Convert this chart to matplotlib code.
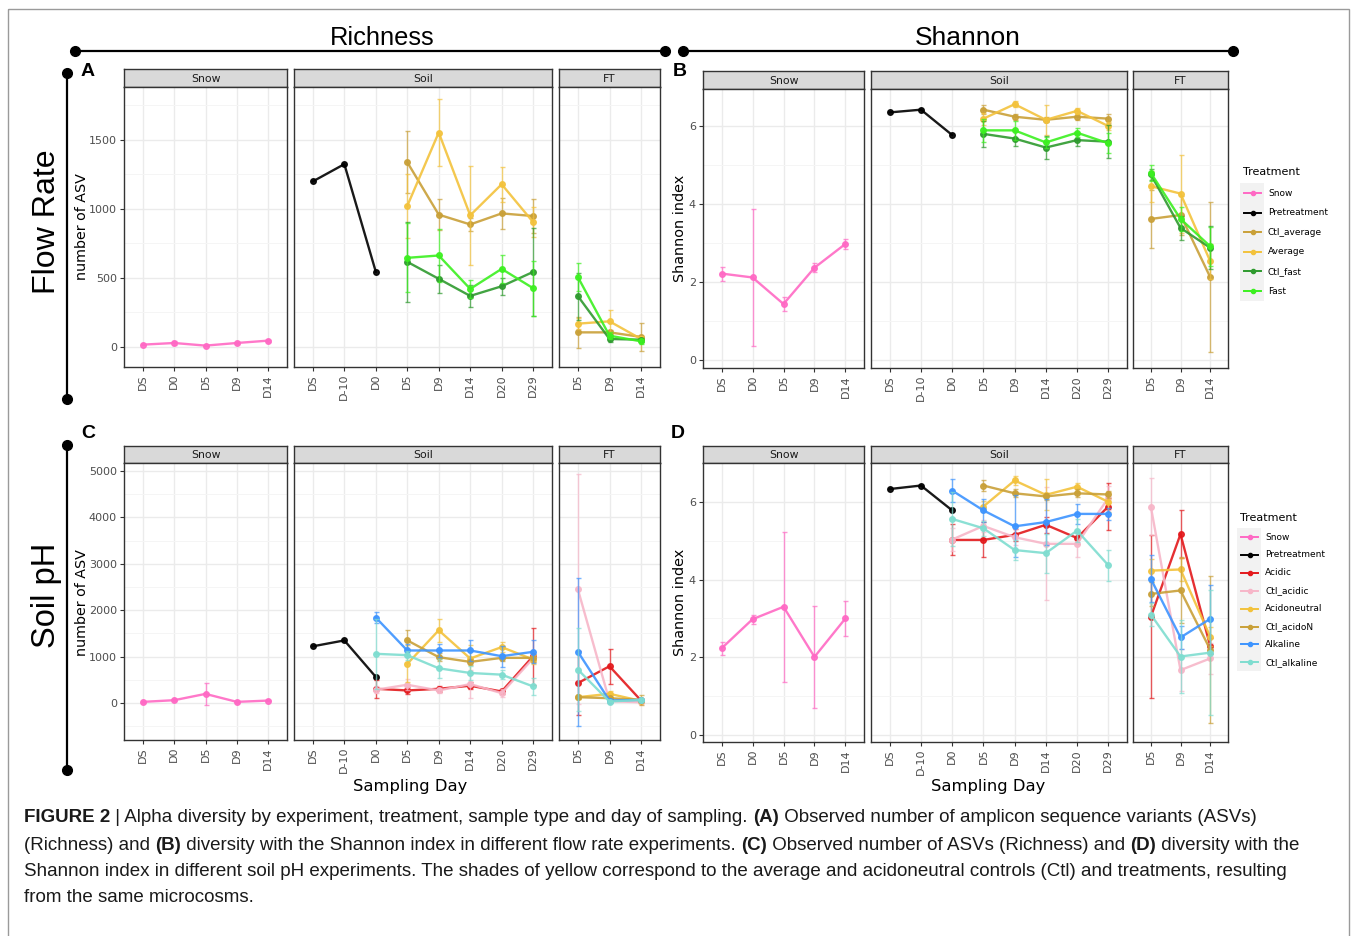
import numpy as np
import matplotlib
matplotlib.use("Agg")
import matplotlib.pyplot as plt
from matplotlib import font_manager
from matplotlib.patches import Rectangle

nan = np.nan

# ---- data ----
snow_days = ["DS", "D0", "D5", "D9", "D14"]
soil_days = ["DS", "D-10", "D0", "D5", "D9", "D14", "D20", "D29"]
ft_days = ["D5", "D9", "D14"]

flow_names = ["Ctl_average", "Average", "Ctl_fast", "Fast"]
ph_names = ["Acidic", "Ctl_acidic", "Acidoneutral", "Ctl_acidoN", "Alkaline", "Ctl_alkaline"]

# A - richness, flow rate.  treatment lists: soil D5..D29, then FT D5, D9, D14
a_snow = [17, 29, 10, 29, 46]
a_snow_sd = [6, 18, 6, 8, 8]
a_pre = [1200, 1325, 545]
a_ctl_average = [1339, 959, 888, 968, 949, 106, 106, 73]
a_ctl_average_sd = [225, 110, 45, 115, 125, 110, 15, 100]
a_average = [1022, 1554, 954, 1179, 905, 169, 186, 58]
a_average_sd = [230, 245, 357, 125, 110, 40, 80, 20]
a_ctl_fast = [617, 494, 370, 440, 544, 368, 58, 53]
a_ctl_fast_sd = [290, 100, 80, 60, 320, 170, 20, 15]
a_fast = [646, 663, 421, 566, 426, 506, 82, 41]
a_fast_sd = [250, 190, 65, 100, 200, 100, 25, 20]

# B - Shannon, flow rate
b_snow = [2.22, 2.12, 1.44, 2.37, 2.98]
b_snow_sd = [0.18, 1.76, 0.19, 0.12, 0.12]
b_pre = [6.35, 6.42, 5.77]
b_ctl_average = [6.42, 6.24, 6.16, 6.24, 6.19, 3.62, 3.72, 2.13]
b_ctl_average_sd = [0.12, 0.08, 0.06, 0.08, 0.12, 0.75, 0.5, 1.93]
b_average = [6.19, 6.56, 6.16, 6.39, 6.0, 4.46, 4.27, 2.54]
b_average_sd = [0.15, 0.08, 0.38, 0.08, 0.1, 0.4, 1.0, 0.45]
b_ctl_fast = [5.80, 5.68, 5.45, 5.64, 5.60, 4.76, 3.39, 2.88]
b_ctl_fast_sd = [0.33, 0.2, 0.3, 0.15, 0.42, 0.15, 0.3, 0.55]
b_fast = [5.89, 5.89, 5.58, 5.83, 5.56, 4.80, 3.62, 2.92]
b_fast_sd = [0.3, 0.25, 0.15, 0.12, 0.25, 0.2, 0.3, 0.5]

# C - richness, soil pH.  treatment lists: soil D0..D29, then FT D5, D9, D14
c_snow = [22, 58, 194, 22, 50]
c_snow_sd = [15, 20, 238, 15, 15]
c_pre = [1220, 1347, 560]
c_acidic = [304, 268, 304, 370, 246, 1007, 428, 790, 50]
c_acidic_sd = [200, 80, 60, 70, 60, 612, 690, 382, 15]
c_ctl_acidic = [283, 391, 268, 406, 210, 960, 2446, 36, 14]
c_ctl_acidic_sd = [80, 120, 60, 300, 80, 80, 2480, 20, 15]
c_acidoneutral = [nan, 841, 1565, 957, 1203, 935, 123, 196, 43]
c_acidoneutral_sd = [nan, 400, 245, 300, 110, 100, 40, 60, 15]
c_ctl_acidon = [nan, 1348, 986, 884, 971, 971, 123, 101, 65]
c_ctl_acidon_sd = [nan, 220, 80, 60, 60, 80, 40, 20, 100]
c_alkaline = [1840, 1130, 1130, 1130, 1007, 1101, 1101, 50, 65]
c_alkaline_sd = [120, 150, 150, 230, 230, 250, 1600, 20, 20]
c_ctl_alkaline = [1058, 1029, 746, 645, 609, 355, 717, 29, 65]
c_ctl_alkaline_sd = [750, 100, 200, 150, 100, 180, 900, 15, 15]

# D - Shannon, soil pH
d_snow = [2.23, 2.98, 3.30, 2.01, 3.0]
d_snow_sd = [0.17, 0.12, 1.93, 1.32, 0.46]
d_pre = [6.33, 6.42, 5.78]
d_acidic = [5.02, 5.02, 5.15, 5.41, 5.07, 5.88, 3.04, 5.17, 2.29]
d_acidic_sd = [0.4, 0.45, 0.15, 0.2, 0.15, 0.6, 2.1, 0.62, 0.2]
d_ctl_acidic = [5.03, 5.38, 5.09, 4.92, 4.92, 6.1, 5.88, 1.67, 1.97]
d_ctl_acidic_sd = [0.3, 0.15, 0.2, 1.45, 0.35, 0.3, 0.74, 0.55, 0.4]
d_acidoneutral = [nan, 5.88, 6.55, 6.18, 6.39, 6.0, 4.23, 4.26, 2.53]
d_acidoneutral_sd = [nan, 0.15, 0.12, 0.4, 0.1, 0.25, 0.3, 0.3, 0.25]
d_ctl_acidon = [nan, 6.42, 6.22, 6.14, 6.22, 6.19, 3.63, 3.72, 2.2]
d_ctl_acidon_sd = [nan, 0.15, 0.1, 0.1, 0.1, 0.1, 0.3, 0.85, 1.9]
d_alkaline = [6.29, 5.78, 5.37, 5.48, 5.69, 5.69, 4.02, 2.51, 2.99]
d_alkaline_sd = [0.3, 0.3, 0.8, 0.6, 0.25, 0.15, 0.6, 0.3, 0.87]
d_ctl_alkaline = [5.56, 5.32, 4.76, 4.68, 5.26, 4.37, 3.10, 2.02, 2.12]
d_ctl_alkaline_sd = [0.7, 0.2, 0.25, 0.5, 0.3, 0.4, 0.3, 0.95, 1.6]

colours = {"Snow": "#FF69C4", "Pretreatment": "#000000",
           "Ctl_average": "#C9A038", "Average": "#F3C23C",
           "Ctl_fast": "#2E9A2E", "Fast": "#3CF020",
           "Acidic": "#E3191C", "Ctl_acidic": "#F7B6C8",
           "Acidoneutral": "#F3C23C", "Ctl_acidoN": "#C9A038",
           "Alkaline": "#3D94FF", "Ctl_alkaline": "#7FDDD0"}

plt.rcParams["font.family"] = "DejaVu Sans"


def have(name):
    try:
        font_manager.findfont(name, fallback_to_default=False)
        return True
    except ValueError:
        return False


narrow = "Liberation Sans Narrow" if have("Liberation Sans Narrow") else "Liberation Sans"

W, H = 1355, 936
fig = plt.figure(figsize=(W / 100, H / 100), dpi=100)
renderer = fig.canvas.get_renderer()

# overlay in pixel coordinates for the frame, headers, legends and caption
ov = fig.add_axes([0, 0, 1, 1])
ov.set_xlim(0, W)
ov.set_ylim(H, 0)
ov.axis("off")
ov.set_autoscale_on(False)


def box(x0, y0, x1, y1):
    return [x0 / W, 1 - y1 / H, (x1 - x0) / W, (y1 - y0) / H]


def fit(x, y, s, width, rotation=0, **kw):
    t = ov.text(x, y, s, fontsize=10, ha="center", va="center", **kw)
    w = t.get_window_extent(renderer).width
    t.set_fontsize(10 * width / w)
    t.set_rotation(rotation)
    return t


def facet_row(cols, strip_top, top, bottom, ylim, major, minor):
    axes = []
    for i, ((x0, x1), days, name) in enumerate(zip(cols, [snow_days, soil_days, ft_days],
                                                   ["Snow", "Soil", "FT"])):
        sax = fig.add_axes(box(x0, strip_top, x1, top))
        sax.set_facecolor("#D9D9D9")
        sax.set_xticks([])
        sax.set_yticks([])
        for s in sax.spines.values():
            s.set_color("#333333")
            s.set_linewidth(1)
        sax.text(0.5, 0.45, name, transform=sax.transAxes, ha="center", va="center",
                 fontsize=7.8, color="#1A1A1A")

        ax = fig.add_axes(box(x0, top, x1, bottom))
        ax.set_xlim(0.4, len(days) + 0.6)
        ax.set_ylim(*ylim)
        ax.set_xticks(range(1, len(days) + 1))
        ax.set_xticklabels(days, rotation=90, fontsize=8, color="#4D4D4D")
        ax.set_yticks(major)
        ax.set_yticks(minor, minor=True)
        ax.grid(True, which="major", color="#EBEBEB", lw=1)
        ax.grid(True, which="minor", axis="y", color="#F5F5F5", lw=0.7)
        ax.set_axisbelow(True)
        ax.tick_params(length=3, width=0.8, color="#333333", pad=2)
        ax.tick_params(axis="y", which="minor", left=False)
        if i == 0:
            ax.set_yticklabels([str(v) for v in major], fontsize=8, color="#4D4D4D")
        else:
            ax.tick_params(axis="y", left=False, labelleft=False)
        for s in ax.spines.values():
            s.set_color("#333333")
            s.set_linewidth(1)
        axes.append(ax)
    return axes


def series(ax, xs, ys, sd, colour):
    xs = np.asarray(list(xs), float)
    ys = np.asarray(ys, float)
    ok = ~np.isnan(ys)
    if sd is not None:
        ax.errorbar(xs[ok], ys[ok], yerr=np.asarray(sd, float)[ok], fmt="none", ecolor=colour,
                    elinewidth=1, capsize=1.8, alpha=0.7)
    ax.plot(xs[ok], ys[ok], "-o", color=colour, lw=1.7, ms=4, alpha=0.9)


def draw_panel(axes, snow, snow_sd, pre, treatments, soil_start):
    snow_ax, soil_ax, ft_ax = axes
    series(snow_ax, range(1, 6), snow, snow_sd, colours["Snow"])
    series(soil_ax, [1, 2, 3], pre, None, colours["Pretreatment"])
    for name, vals, sd in treatments:
        k = len(vals) - 3
        series(soil_ax, range(soil_start, soil_start + k), vals[:k], sd[:k], colours[name])
        series(ft_ax, [1, 2, 3], vals[k:], sd[k:], colours[name])


left_cols = [(124, 287), (294, 552), (559, 660)]
right_cols = [(703, 864), (871, 1127), (1133, 1228)]

ax_a = facet_row(left_cols, 69, 87, 367, (-145, 1884), [0, 500, 1000, 1500], [250, 750, 1250, 1750])
ax_b = facet_row(right_cols, 71, 89, 368, (-0.2, 6.95), [0, 2, 4, 6], [1, 3, 5])
ax_c = facet_row(left_cols, 446, 463, 740, (-800, 5172), [0, 1000, 2000, 3000, 4000, 5000],
                 [-500, 500, 1500, 2500, 3500, 4500])
ax_d = facet_row(right_cols, 446, 463, 742, (-0.18, 7.0), [0, 2, 4, 6], [1, 3, 5])

draw_panel(ax_a, a_snow, a_snow_sd, a_pre,
           [("Ctl_average", a_ctl_average, a_ctl_average_sd), ("Average", a_average, a_average_sd),
            ("Ctl_fast", a_ctl_fast, a_ctl_fast_sd), ("Fast", a_fast, a_fast_sd)], 4)
draw_panel(ax_b, b_snow, b_snow_sd, b_pre,
           [("Ctl_average", b_ctl_average, b_ctl_average_sd), ("Average", b_average, b_average_sd),
            ("Ctl_fast", b_ctl_fast, b_ctl_fast_sd), ("Fast", b_fast, b_fast_sd)], 4)
draw_panel(ax_c, c_snow, c_snow_sd, c_pre,
           [("Acidic", c_acidic, c_acidic_sd), ("Ctl_acidic", c_ctl_acidic, c_ctl_acidic_sd),
            ("Acidoneutral", c_acidoneutral, c_acidoneutral_sd), ("Ctl_acidoN", c_ctl_acidon, c_ctl_acidon_sd),
            ("Alkaline", c_alkaline, c_alkaline_sd), ("Ctl_alkaline", c_ctl_alkaline, c_ctl_alkaline_sd)], 3)
draw_panel(ax_d, d_snow, d_snow_sd, d_pre,
           [("Acidic", d_acidic, d_acidic_sd), ("Ctl_acidic", d_ctl_acidic, d_ctl_acidic_sd),
            ("Acidoneutral", d_acidoneutral, d_acidoneutral_sd), ("Ctl_acidoN", d_ctl_acidon, d_ctl_acidon_sd),
            ("Alkaline", d_alkaline, d_alkaline_sd), ("Ctl_alkaline", d_ctl_alkaline, d_ctl_alkaline_sd)], 3)

# ---- frame, brackets and headers ----
ov.add_patch(Rectangle((8, 9), 1341, 960, fill=False, ec="#9A9A9A", lw=1))
for xs, ys in [([75, 665], [51, 51]), ([683, 1233], [51, 51]),
               ([67, 67], [73, 399]), ([67, 67], [445, 770])]:
    ov.plot(xs, ys, "-", color="black", lw=1.6)
    ov.plot(xs, ys, "o", color="black", ms=7)

fit(382, 38, "Richness", 105, family=narrow)
fit(968, 38, "Shannon", 106, family=narrow)
fit(47, 222, "Flow Rate", 145, rotation=90, family=narrow)
fit(47, 595, "Soil pH", 105, rotation=90, family=narrow)
for x, y, s in [(88, 71, "A"), (680, 71, "B"), (88, 433, "C"), (678, 433, "D")]:
    ov.text(x, y, s, fontsize=14, fontweight="bold", ha="center", va="center", family=narrow)

fit(82, 227, "number of ASV", 107, rotation=90)
fit(82, 603, "number of ASV", 107, rotation=90)
fit(680, 228, "Shannon index", 107, rotation=90)
fit(680, 602, "Shannon index", 107, rotation=90)
fit(410, 787, "Sampling Day", 115)
fit(988, 787, "Sampling Day", 115)


def legend(x, y_title, y0, step, names):
    ov.text(x, y_title, "Treatment", fontsize=8, ha="left", va="center")
    ov.add_patch(Rectangle((x - 3, y0 - step / 2), 24, step * len(names), color="#F2F2F2", lw=0))
    for i, n in enumerate(names):
        y = y0 + i * step
        ov.plot([x + 1, x + 18], [y, y], color=colours[n], lw=1.4)
        ov.plot(x + 9.5, y, "o", color=colours[n], ms=3)
        ov.text(x + 25, y, n, fontsize=6.5, ha="left", va="center")


legend(1243, 172, 193, 19.6, ["Snow", "Pretreatment"] + flow_names)
legend(1240, 518, 537, 17.9, ["Snow", "Pretreatment"] + ph_names)

# ---- caption ----
cap_lines = [
    [("FIGURE 2", True), (" | Alpha diversity by experiment, treatment, sample type and day of sampling. ", False),
     ("(A)", True), (" Observed number of amplicon sequence variants (ASVs)", False)],
    [("(Richness) and ", False), ("(B)", True),
     (" diversity with the Shannon index in different flow rate experiments. ", False), ("(C)", True),
     (" Observed number of ASVs (Richness) and ", False), ("(D)", True), (" diversity with the", False)],
    [("Shannon index in different soil pH experiments. The shades of yellow correspond to the average "
      "and acidoneutral controls (Ctl) and treatments, resulting", False)],
    [("from the same microcosms.", False)],
]


def text_width(s, bold, size):
    t = ov.text(0, 0, "|" + s + "|", fontsize=size, family=narrow,
                fontweight="bold" if bold else "normal")
    w = t.get_window_extent(renderer).width
    t.remove()
    t = ov.text(0, 0, "||", fontsize=size, family=narrow, fontweight="bold" if bold else "normal")
    w -= t.get_window_extent(renderer).width
    t.remove()
    return w


cap_size = 10 * 1274 / text_width(cap_lines[2][0][0], False, 10)
for y, parts in zip([818, 845, 871, 897], cap_lines):
    x = 24
    for s, bold in parts:
        ov.text(x, y, s, fontsize=cap_size, family=narrow, va="center", ha="left",
                fontweight="bold" if bold else "normal", color="#1A1A1A")
        x += text_width(s, bold, cap_size)

fig.savefig("out.png", dpi=100)
